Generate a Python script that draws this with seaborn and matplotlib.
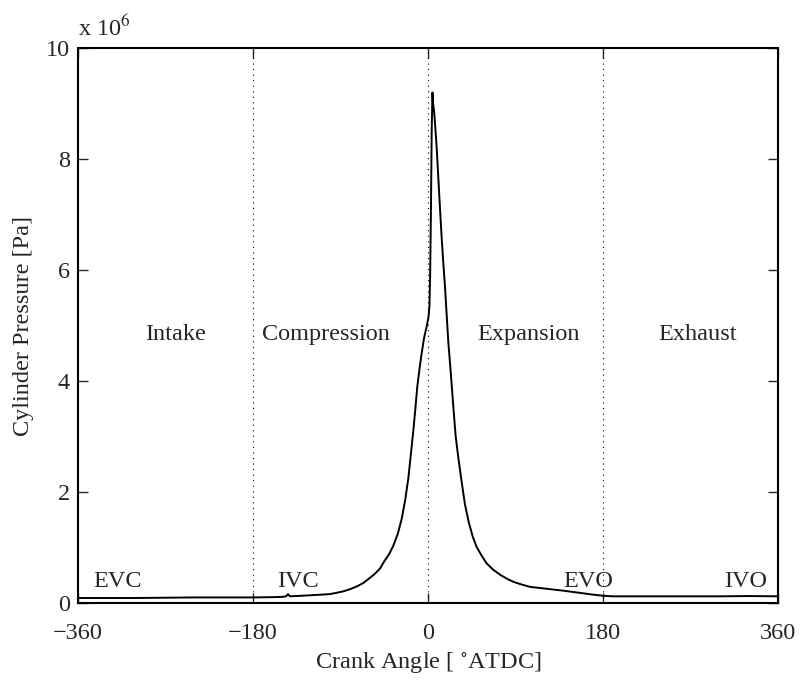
import numpy as np
import pandas as pd
import matplotlib
matplotlib.use("Agg")
import matplotlib.pyplot as plt
import seaborn as sns

# Crank angle [deg ATDC] and cylinder pressure [x 1e6 Pa]
crank_angle = [-360, -330, -300, -270, -240, -210, -180, -160, -150, -146, -144, -142,
               -130, -120, -110, -101, -95, -87, -80, -73, -66.5, -60, -55, -49.4, -45, -40,
               -35.7, -31, -27, -23.5, -20.2, -17.5, -15, -13, -11, -8.5, -6.5, -4, -1.4,
               0.5, 1.5, 2.2, 3, 3.8, 4.6, 5.2, 6.0, 6.6, 8.9, 11.7, 14, 15.8, 17.5, 19.2,
               20.9, 23, 26, 28.5, 31.2, 34.5, 38, 42, 46, 50, 55, 60, 67, 75, 82, 88, 95,
               105, 115, 125, 140, 155, 170, 180, 190, 220, 260, 300, 330, 360]
pressure_mpa = [0.09, 0.09, 0.09, 0.095, 0.10, 0.10, 0.10, 0.105, 0.11, 0.12, 0.16, 0.12,
                0.13, 0.14, 0.15, 0.16, 0.18, 0.21, 0.25, 0.30, 0.36, 0.45, 0.52, 0.62, 0.75,
                0.88, 1.03, 1.25, 1.52, 1.85, 2.25, 2.70, 3.12, 3.50, 3.90, 4.25, 4.50, 4.78,
                4.98, 5.15, 5.35, 5.90, 7.00, 8.50, 9.20, 9.00, 8.90, 8.80, 8.22, 7.32, 6.60,
                6.12, 5.70, 5.20, 4.70, 4.25, 3.55, 3.00, 2.62, 2.20, 1.78, 1.45, 1.20, 1.01,
                0.86, 0.72, 0.60, 0.50, 0.43, 0.38, 0.34, 0.29, 0.27, 0.25, 0.22, 0.185, 0.15,
                0.13, 0.12, 0.12, 0.12, 0.12, 0.125, 0.12]

# Stroke names and valve events
stroke_labels = ["Intake", "Compression", "Expansion", "Exhaust"]
stroke_x = [-260, -105, 103, 277]
valve_labels = ["EVC", "IVC", "EVO", "IVO"]
valve_x = [-319, -134, 165, 327]
tdc_lines = [-180, 0, 180]

df = pd.DataFrame({"angle": crank_angle, "pressure": np.array(pressure_mpa) * 1e6})

sns.set_theme(style="white")
plt.rcParams["font.family"] = ["Liberation Serif", "DejaVu Serif"]
plt.rcParams["mathtext.fontset"] = "stix"

fs = 17.5
fig = plt.figure(figsize=(8.02, 6.87), dpi=100)
ax = fig.add_axes([0.0973, 0.1223, 0.8727, 0.8077])

for x in tdc_lines:
    ax.axvline(x, color="black", linestyle=(0, (1, 4)), linewidth=0.8)

sns.lineplot(data=df, x="angle", y="pressure", color="black", linewidth=1.4,
             estimator=None, ax=ax)

for lbl, x in zip(stroke_labels, stroke_x):
    ax.text(x, 4.74e6, lbl, ha="center", va="baseline", fontsize=fs)
for lbl, x in zip(valve_labels, valve_x):
    ax.text(x, 0.29e6, lbl, ha="center", va="baseline", fontsize=fs)

ax.set_xlim(-360, 360)
ax.set_ylim(0, 1e7)
ax.set_xticks([-360, -180, 0, 180, 360])
ax.set_xticklabels(["\u2212360", "\u2212180", "0", "180", "360"])
ax.set_yticks([0, 2e6, 4e6, 6e6, 8e6, 1e7])
ax.set_yticklabels(["0", "2", "4", "6", "8", "10"])
ax.tick_params(direction="in", length=7, width=1, labelsize=fs, top=True, right=True,
               bottom=True, left=True)
ax.tick_params(axis="x", pad=14.5)
ax.tick_params(axis="y", pad=6)
for s in ax.spines.values():
    s.set_linewidth(1.5)
    s.set_color("black")

ax.set_xlabel(r"Crank Angle [ $^{\circ}$ATDC]", fontsize=fs, labelpad=4)
ax.set_ylabel("Cylinder Pressure [Pa]", fontsize=fs, labelpad=8)
ax.text(0.0, 1.012, r"x 10$^{6}$", transform=ax.transAxes, fontsize=fs, ha="left", va="bottom")

fig.savefig("out.png", dpi=100)
